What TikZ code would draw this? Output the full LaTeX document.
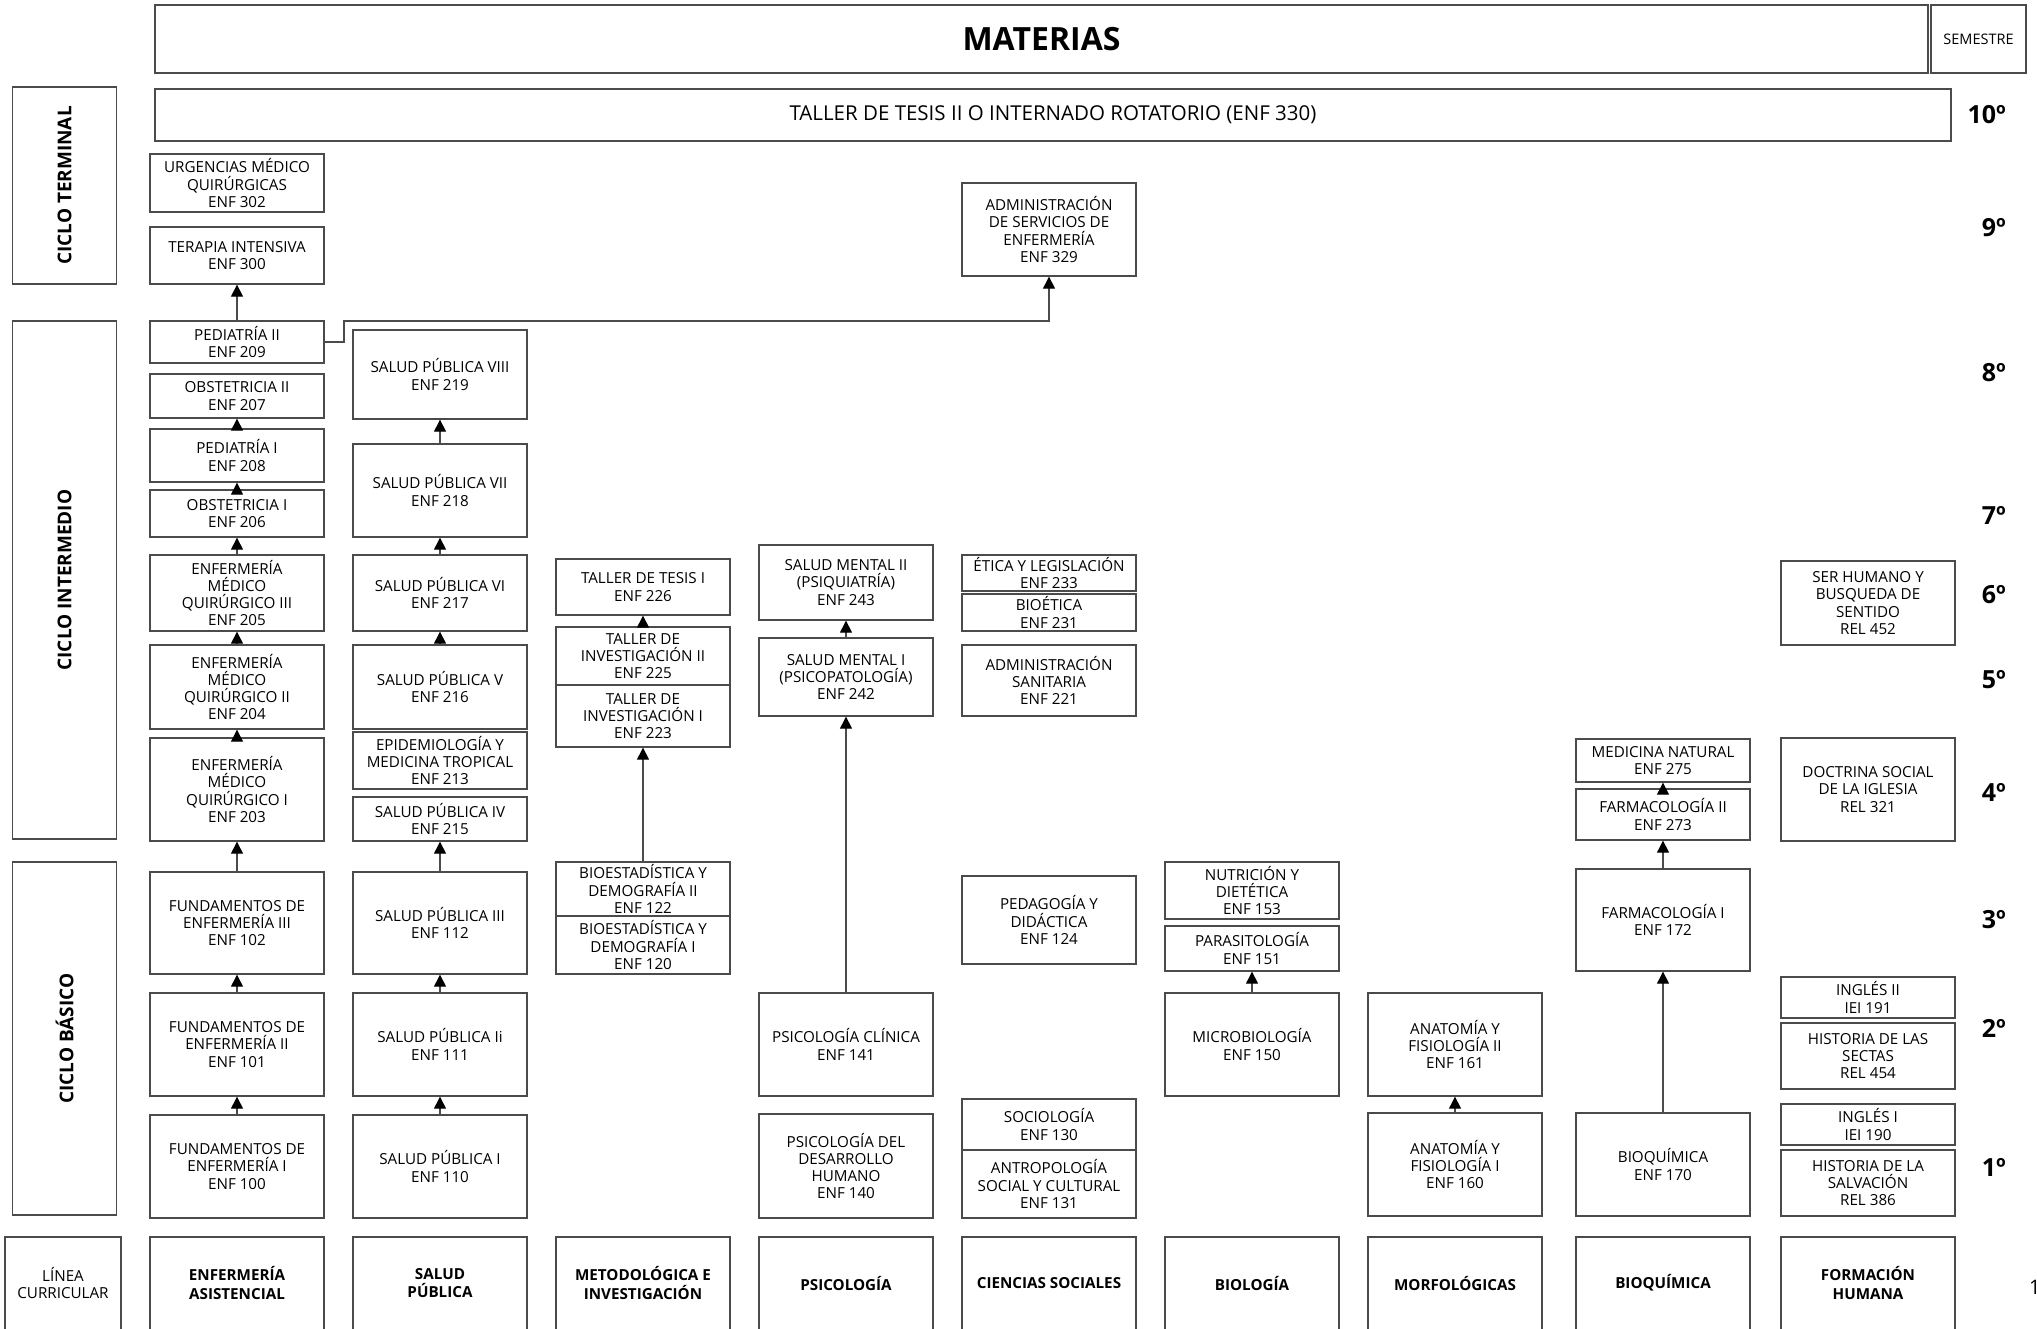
\documentclass[tikz,border=0pt]{standalone}
\usepackage{fontspec}
\setmainfont{Open Sans}
\usetikzlibrary{arrows.meta}
\definecolor{ln}{RGB}{75,75,75}
\tikzset{
 box/.style={draw=ln, line width=1.3pt, inner sep=0pt, rectangle},
 txt/.style={align=center, font=\fontsize{15.2}{17.3}\selectfont, inner sep=0pt},
 btxt/.style={align=center, font=\fontsize{15.2}{18.3}\selectfont\bfseries, inner sep=0pt},
 arr/.style={draw=ln, line width=1.1pt, -{Triangle[length=12pt,width=12pt,color=black]}},
 cyc/.style={align=center, rotate=90, inner sep=0pt, font=\fontsize{19}{22}\selectfont\bfseries},
 sem/.style={anchor=east, inner sep=0pt, font=\fontsize{25}{27}\selectfont\bfseries},
}
% name, left x, top y, bottom y, text
\newcommand{\bx}[5]{\node[box, minimum width=174pt, minimum height={(#4)-(#3)}, label={[txt]center:{#5}}] (#1) at ({#2+87},{((#3)+(#4))/2}) {};}
% bottom row: name, left x, text
\newcommand{\lin}[3]{\node[box, minimum width=174pt, minimum height=103pt] (#1) at ({#2+87},1288.5) {};
 \node[btxt] (#1t) at ({#2+87},1283) {#3};}
\begin{document}
\begin{tikzpicture}[x=1pt,y=-1pt]
\clip (0,0) rectangle (2037,1328);
\fill[white] (0,0) rectangle (2037,1328);

% header
\node[box, minimum width=1773pt, minimum height=68pt] (mat) at (1041.5,39) {};
\node[inner sep=0pt, font=\fontsize{32}{35}\selectfont\bfseries] (matT) at (mat.center) {MATERIAS};
\node[box, minimum width=95pt, minimum height=68pt] (semh) at (1978.5,39) {};
\node[inner sep=0pt, font=\fontsize{14.5}{16}\selectfont] (semhT) at (semh.center) {SEMESTRE};
\node[box, minimum width=1796pt, minimum height=52pt] (tt2) at (1053,115) {};
\node[inner sep=0pt, font=\fontsize{20.5}{23}\selectfont] (tt2T) at (tt2.center) {TALLER DE TESIS II O INTERNADO ROTATORIO (ENF 330)};

% cycles
\node[box, minimum width=104pt, minimum height=197pt] (ct) at (64.5,185.5) {};
\node[cyc] (ctT) at (ct.center) {CICLO TERMINAL};
\node[box, minimum width=104pt, minimum height=518pt] (ci) at (64.5,580) {};
\node[cyc] (ciT) at (ci.center) {CICLO INTERMEDIO};
\node[box, minimum width=104pt, minimum height=353pt] (cb) at (64.5,1038.5) {};
\node[cyc] (cbT) at (cb.center) {CICLO BÁSICO};

% semesters
\node[sem] (s10) at (2006,115) {10º};
\node[sem] (s9) at (2006,228) {9º};
\node[sem] (s8) at (2006,373) {8º};
\node[sem] (s7) at (2006,515) {7º};
\node[sem] (s6) at (2006,595) {6º};
\node[sem] (s5) at (2006,680) {5º};
\node[sem] (s4) at (2006,792) {4º};
\node[sem] (s3) at (2006,920) {3º};
\node[sem] (s2) at (2006,1028) {2º};
\node[sem] (s1) at (2006,1167) {1º};
\node[anchor=west, inner sep=0pt, font=\fontsize{20}{22}\selectfont] (pg) at (2029,1287) {1};

% column 1
\bx{urg}{150}{154}{212}{URGENCIAS MÉDICO\\QUIRÚRGICAS\\ENF 302}
\bx{ter}{150}{227}{284}{TERAPIA INTENSIVA\\ENF 300}
\bx{ped2}{150}{321}{363}{PEDIATRÍA II\\ENF 209}
\bx{obs2}{150}{374}{418}{OBSTETRICIA II\\ENF 207}
\bx{ped1}{150}{429}{482}{PEDIATRÍA I\\ENF 208}
\bx{obs1}{150}{490}{537}{OBSTETRICIA I\\ENF 206}
\bx{emq3}{150}{555}{631}{ENFERMERÍA\\MÉDICO\\QUIRÚRGICO III\\ENF 205}
\bx{emq2}{150}{645}{729}{ENFERMERÍA\\MÉDICO\\QUIRÚRGICO II\\ENF 204}
\bx{emq1}{150}{738}{841}{ENFERMERÍA\\MÉDICO\\QUIRÚRGICO I\\ENF 203}
\bx{fe3}{150}{872}{974}{FUNDAMENTOS DE\\ENFERMERÍA III\\ENF 102}
\bx{fe2}{150}{993}{1096}{FUNDAMENTOS DE\\ENFERMERÍA II\\ENF 101}
\bx{fe1}{150}{1115}{1218}{FUNDAMENTOS DE\\ENFERMERÍA I\\ENF 100}

% column 2
\bx{sp8}{353}{330}{419}{SALUD PÚBLICA VIII\\ENF 219}
\bx{sp7}{353}{444}{537}{SALUD PÚBLICA VII\\ENF 218}
\bx{sp6}{353}{555}{631}{SALUD PÚBLICA VI\\ENF 217}
\bx{sp5}{353}{645}{729}{SALUD PÚBLICA V\\ENF 216}
\bx{epi}{353}{732}{789}{EPIDEMIOLOGÍA Y\\MEDICINA TROPICAL\\ENF 213}
\bx{sp4}{353}{797}{841}{SALUD PÚBLICA IV\\ENF 215}
\bx{sp3}{353}{872}{974}{SALUD PÚBLICA III\\ENF 112}
\bx{sp2}{353}{993}{1096}{SALUD PÚBLICA Ii\\ENF 111}
\bx{sp1}{353}{1115}{1218}{SALUD PÚBLICA I\\ENF 110}

% column 3
\bx{tt1}{556}{559}{615}{TALLER DE TESIS I\\ENF 226}
\bx{ti2}{556}{627}{685}{TALLER DE\\INVESTIGACIÓN II\\ENF 225}
\bx{ti1}{556}{685}{747}{TALLER DE\\INVESTIGACIÓN I\\ENF 223}
\bx{be2}{556}{862}{916}{BIOESTADÍSTICA Y\\DEMOGRAFÍA II\\ENF 122}
\bx{be1}{556}{916}{974}{BIOESTADÍSTICA Y\\DEMOGRAFÍA I\\ENF 120}

% column 4
\bx{sm2}{759}{545}{620}{SALUD MENTAL II\\(PSIQUIATRÍA)\\ENF 243}
\bx{sm1}{759}{638}{716}{SALUD MENTAL I\\(PSICOPATOLOGÍA)\\ENF 242}
\bx{pc}{759}{993}{1096}{PSICOLOGÍA CLÍNICA\\ENF 141}
\bx{pd}{759}{1114}{1218}{PSICOLOGÍA DEL\\DESARROLLO\\HUMANO\\ENF 140}

% column 5
\bx{adm}{962}{183}{276}{ADMINISTRACIÓN\\DE SERVICIOS DE\\ENFERMERÍA\\ENF 329}
\bx{etl}{962}{555}{591}{ÉTICA Y LEGISLACIÓN\\ENF 233}
\bx{bio}{962}{594}{631}{BIOÉTICA\\ENF 231}
\bx{ads}{962}{645}{716}{ADMINISTRACIÓN\\SANITARIA\\ENF 221}
\bx{pdg}{962}{876}{964}{PEDAGOGÍA Y\\DIDÁCTICA\\ENF 124}
\bx{soc}{962}{1099}{1150}{SOCIOLOGÍA\\ENF 130}
\bx{ant}{962}{1150}{1218}{ANTROPOLOGÍA\\SOCIAL Y CULTURAL\\ENF 131}

% column 6
\bx{nut}{1165}{862}{919}{NUTRICIÓN Y\\DIETÉTICA\\ENF 153}
\bx{par}{1165}{926}{971}{PARASITOLOGÍA\\ENF 151}
\bx{mic}{1165}{993}{1096}{MICROBIOLOGÍA\\ENF 150}

% column 7
\bx{an2}{1368}{993}{1096}{ANATOMÍA Y\\FISIOLOGÍA II\\ENF 161}
\bx{an1}{1368}{1113}{1216}{ANATOMÍA Y\\FISIOLOGÍA I\\ENF 160}

% column 8
\bx{mn}{1576}{739}{782}{MEDICINA NATURAL\\ENF 275}
\bx{f2}{1576}{789}{840}{FARMACOLOGÍA II\\ENF 273}
\bx{f1}{1576}{869}{971}{FARMACOLOGÍA I\\ENF 172}
\bx{bq}{1576}{1113}{1216}{BIOQUÍMICA\\ENF 170}

% column 9
\bx{sh}{1781}{561}{645}{SER HUMANO Y\\BUSQUEDA DE\\SENTIDO\\REL 452}
\bx{ds}{1781}{738}{841}{DOCTRINA SOCIAL\\DE LA IGLESIA\\REL 321}
\bx{in2}{1781}{977}{1018}{INGLÉS II\\IEI 191}
\bx{hs}{1781}{1023}{1089}{HISTORIA DE LAS\\SECTAS\\REL 454}
\bx{in1}{1781}{1104}{1145}{INGLÉS I\\IEI 190}
\bx{hsal}{1781}{1150}{1216}{HISTORIA DE LA\\SALVACIÓN\\REL 386}

% bottom row
\node[box, minimum width=116pt, minimum height=103pt] (lc) at (63,1288.5) {};
\node[txt] (lcT) at (63,1283) {LÍNEA\\CURRICULAR};
\lin{l1}{150}{ENFERMERÍA\\ASISTENCIAL}
\lin{l2}{353}{SALUD\\PÚBLICA}
\lin{l3}{556}{METODOLÓGICA E\\INVESTIGACIÓN}
\lin{l4}{759}{PSICOLOGÍA}
\lin{l5}{962}{CIENCIAS SOCIALES}
\lin{l6}{1165}{BIOLOGÍA}
\lin{l7}{1368}{MORFOLÓGICAS}
\lin{l8}{1576}{BIOQUÍMICA}
\lin{l9}{1781}{FORMACIÓN\\HUMANA}

% arrows
\draw[arr] (ped2.north) -- (ter.south);
\draw[arr] (ped1.north) -- (obs2.south);
\draw[arr] (obs1.north) -- (ped1.south);
\draw[arr] (emq3.north) -- (obs1.south);
\draw[arr] (emq2.north) -- (emq3.south);
\draw[arr] (emq1.north) -- (emq2.south);
\draw[arr] (fe3.north) -- (emq1.south);
\draw[arr] (fe2.north) -- (fe3.south);
\draw[arr] (fe1.north) -- (fe2.south);
\draw[arr] (sp7.north) -- (sp8.south);
\draw[arr] (sp6.north) -- (sp7.south);
\draw[arr] (sp5.north) -- (sp6.south);
\draw[arr] (sp3.north) -- (sp4.south);
\draw[arr] (sp2.north) -- (sp3.south);
\draw[arr] (sp1.north) -- (sp2.south);
\draw[arr] (ti2.north) -- (tt1.south);
\draw[arr] (be2.north) -- (ti1.south);
\draw[arr] (sm1.north) -- (sm2.south);
\draw[arr] (pc.north) -- (sm1.south);
\draw[arr] (mic.north) -- (par.south);
\draw[arr] (an1.north) -- (an2.south);
\draw[arr] (bq.north) -- (f1.south);
\draw[arr] (f1.north) -- (f2.south);
\draw[arr] (f2.north) -- (mn.south);
\coordinate (j1) at (344,321);
\draw[arr] (ped2.east) -- (ped2.east -| j1) -- (j1) -- (j1 -| adm.south) -- (adm.south);
\end{tikzpicture}
\end{document}
